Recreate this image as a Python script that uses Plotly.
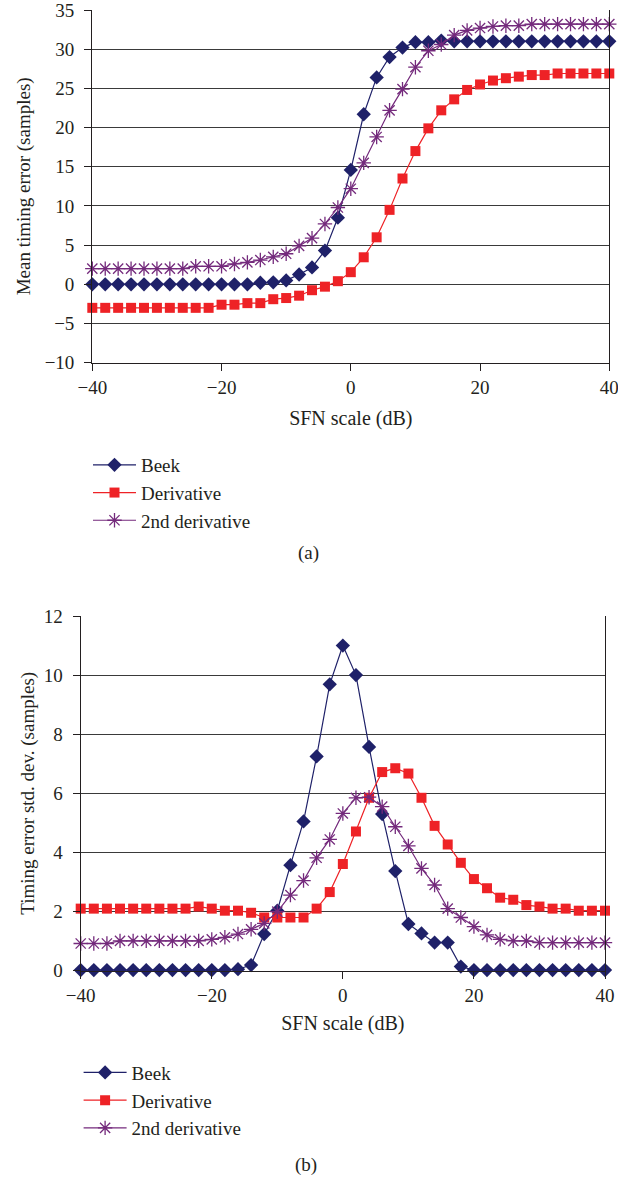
import plotly.graph_objects as go

W, H = 618, 1179

sfn_db = list(range(-40, 41, 2))

# (a) Mean timing error (samples)
mean_beek = [0, 0, 0, 0, 0, 0, 0, 0, 0, 0, 0, 0, 0, 0.2, 0.25, 0.5, 1.25, 2.15, 4.3, 8.5, 14.6,
             21.7, 26.4, 29.0, 30.2, 30.9, 30.9, 31.1, 31.0, 31.0, 31.0, 31.0, 31.0, 31.0, 31.0,
             31.0, 31.0, 31.0, 31.0, 31.0, 31.0]
mean_deriv = [-3, -3, -3, -3, -3, -3, -3, -3, -3, -3, -2.6, -2.6, -2.4, -2.4, -1.9, -1.75, -1.45, -0.75,
              -0.3, 0.4, 1.55, 3.45, 6.0, 9.5, 13.5, 17.0, 19.9, 22.2, 23.6, 24.8, 25.5, 26.0,
              26.3, 26.5, 26.7, 26.7, 26.9, 26.9, 26.9, 26.9, 26.9]
mean_2nd = [2.0, 2.0, 2.0, 2.0, 2.0, 2.0, 2.0, 2.0, 2.3, 2.3, 2.3, 2.6, 2.8, 3.1, 3.5, 3.9, 4.9, 5.9,
            7.7, 9.8, 12.2, 15.5, 18.8, 22.2, 24.9, 27.7, 29.8, 30.6, 31.8, 32.4, 32.7, 32.9,
            33.0, 33.0, 33.2, 33.2, 33.2, 33.2, 33.2, 33.2, 33.2]

# (b) Timing error std. dev. (samples)
std_beek = [0.02, 0.02, 0.02, 0.02, 0.02, 0.02, 0.02, 0.02, 0.02, 0.02, 0.02, 0.02, 0.05, 0.19, 1.24,
            2.03, 3.57, 5.05, 7.25, 9.69, 11.0, 10.0, 7.57, 5.3, 3.37, 1.58, 1.26, 0.95, 0.95,
            0.14, 0.02, 0.02, 0.02, 0.02, 0.02, 0.02, 0.02, 0.02, 0.02, 0.02, 0.02]
std_deriv = [2.1, 2.1, 2.1, 2.1, 2.1, 2.1, 2.1, 2.1, 2.1, 2.17, 2.1, 2.03, 2.03, 1.96, 1.8, 1.8, 1.8,
             1.8, 2.1, 2.66, 3.61, 4.71, 5.85, 6.72, 6.85, 6.67, 5.85, 4.9, 4.27, 3.65, 3.1,
             2.79, 2.47, 2.4, 2.22, 2.17, 2.1, 2.1, 2.03, 2.03, 2.03]
std_2nd = [0.92, 0.92, 0.92, 1.01, 1.01, 1.01, 1.01, 1.01, 1.01, 1.01, 1.06, 1.13, 1.24, 1.4, 1.6,
           2.0, 2.56, 3.05, 3.82, 4.44, 5.32, 5.85, 5.87, 5.55, 4.87, 4.22, 3.46, 2.9, 2.1,
           1.8, 1.49, 1.21, 1.06, 1.01, 1.01, 0.95, 0.95, 0.95, 0.95, 0.95, 0.95]

series_names = ["Beek", "Derivative", "2nd derivative"]

NAVY = "#1f2169"
RED = "#ee2226"
PURPLE = "#742a7c"
FONT = "Liberation Serif"
TXT = "#231f20"

styles = [
    dict(color=NAVY, marker=dict(symbol="diamond", size=11, color=NAVY)),
    dict(color=RED, marker=dict(symbol="square", size=10, color=RED)),
    dict(color=PURPLE, marker=dict(symbol="asterisk-open", size=12,
                                   line=dict(color=PURPLE, width=1.3))),
]

fig = go.Figure()

def px_x(p):
    return p / W

def px_y(p):
    return 1 - p / H

for i, (name, ys) in enumerate(zip(series_names, [mean_beek, mean_deriv, mean_2nd])):
    st = styles[i]
    fig.add_trace(go.Scatter(x=sfn_db, y=ys, name=name, mode="lines+markers",
                             line=dict(color=st["color"], width=1.2), marker=st["marker"],
                             xaxis="x", yaxis="y", legend="legend", legendgroup="a" + str(i),
                             cliponaxis=False))
for i, (name, ys) in enumerate(zip(series_names, [std_beek, std_deriv, std_2nd])):
    st = styles[i]
    fig.add_trace(go.Scatter(x=sfn_db, y=ys, name=name, mode="lines+markers",
                             line=dict(color=st["color"], width=1.2), marker=st["marker"],
                             xaxis="x2", yaxis="y2", legend="legend2", legendgroup="b" + str(i),
                             cliponaxis=False))

tickfont = dict(family=FONT, size=19, color=TXT)
titlefont = dict(family=FONT, size=19, color=TXT)
xtitlefont = dict(family=FONT, size=20, color=TXT)

xcommon = dict(range=[-40, 40], tickvals=[-40, -20, 0, 20, 40], showgrid=False, zeroline=False,
               showline=True, linecolor="#231f20", linewidth=1.3, ticks="outside", ticklen=7,
               tickcolor="#231f20", tickfont=tickfont, fixedrange=True, automargin=False,
               ticklabeloverflow="allow")
ycommon = dict(showgrid=True, gridcolor="#3a3a3a", gridwidth=1, zeroline=False, showline=True,
               linecolor="#231f20", linewidth=1.3, mirror=True, ticks="outside", ticklen=7,
               tickcolor="#231f20", tickfont=tickfont, fixedrange=True, automargin=False,
               ticklabeloverflow="allow")

legcommon = dict(font=dict(family=FONT, size=19, color=TXT), bgcolor="rgba(0,0,0,0)",
                 xanchor="left", yanchor="top", tracegroupgap=0, itemwidth=43,
                 itemclick=False, itemdoubleclick=False)

fig.update_layout(
    width=W, height=H,
    margin=dict(l=0, r=0, t=0, b=0, autoexpand=False),
    paper_bgcolor="white", plot_bgcolor="white",
    font=dict(family=FONT, color=TXT),
    showlegend=True,
    xaxis=dict(xcommon, domain=[px_x(92.3), px_x(609.3)], anchor="y",
               title=dict(text="SFN scale (dB)", font=xtitlefont, standoff=14)),
    yaxis=dict(ycommon, domain=[px_y(362.7), px_y(10)], anchor="x", range=[-10, 35],
               tickvals=list(range(-10, 36, 5)), ticklabelstandoff=6,
               title=dict(text="Mean timing error (samples)", font=titlefont, standoff=8)),
    xaxis2=dict(xcommon, domain=[px_x(80.7), px_x(605)], anchor="y2",
                title=dict(text="SFN scale (dB)", font=xtitlefont, standoff=11)),
    yaxis2=dict(ycommon, domain=[px_y(970.7), px_y(616)], anchor="x2", range=[0, 12],
                tickvals=list(range(0, 13, 2)), ticklabelstandoff=6,
                title=dict(text="Timing error std. dev. (samples)", font=titlefont, standoff=4)),
    legend=dict(legcommon, x=px_x(88), y=px_y(446)),
    legend2=dict(legcommon, x=px_x(78.6), y=px_y(1053.6)),
    annotations=[
        dict(text="(a)", x=px_x(308), y=px_y(553), xref="paper", yref="paper",
             showarrow=False, font=titlefont, xanchor="center", yanchor="middle"),
        dict(text="(b)", x=px_x(306), y=px_y(1165), xref="paper", yref="paper",
             showarrow=False, font=titlefont, xanchor="center", yanchor="middle"),
    ],
)

fig.write_html("out.html")
